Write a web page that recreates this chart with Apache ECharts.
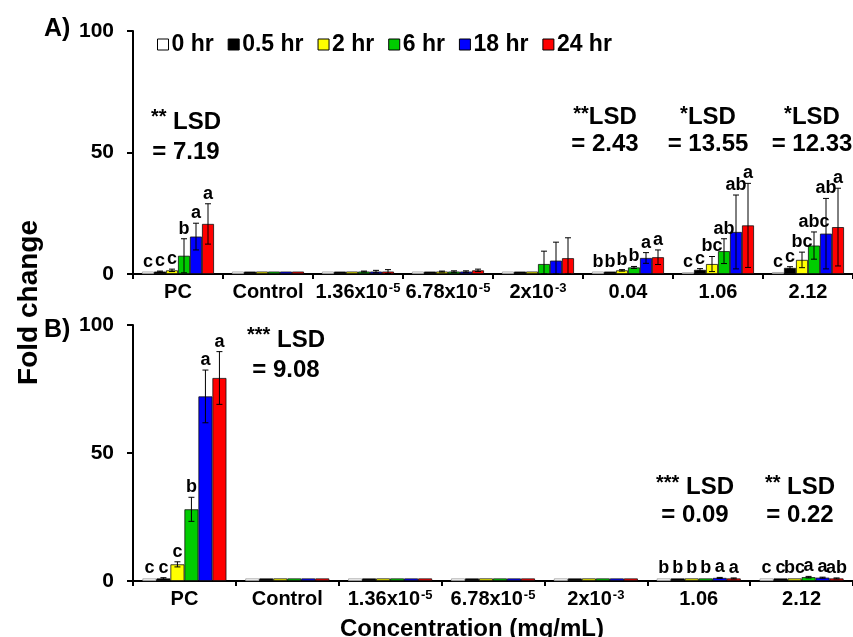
<!DOCTYPE html>
<html>
<head>
<meta charset="utf-8">
<script src="https://cdn.jsdelivr.net/npm/echarts@6/dist/echarts.min.js"></script>
<style>
html,body{margin:0;padding:0;background:#fff;}
#chart{width:853px;height:637px;}
</style>
</head>
<body>
<div id="chart"></div>
<script>
// ---------- DATA ----------
const seriesNames = ['0 hr', '0.5 hr', '2 hr', '6 hr', '18 hr', '24 hr'];
const seriesColors = ['#FFFFFF', '#000000', '#FFFF00', '#00CC00', '#0000FF', '#FF0000'];

const catsA = ['PC', 'Control', '1.36x10-5', '6.78x10-5', '2x10-3', '0.04', '1.06', '2.12'];
const catsB = ['PC', 'Control', '1.36x10-5', '6.78x10-5', '2x10-3', '1.06', '2.12'];

// Panel A means (fold change)
const a0hr  = [1.0, 1.0, 1.0, 1.0, 1.0, 1.0, 0.7, 0.8];
const a05hr = [1.0, 1.0, 1.0, 1.0, 1.0, 1.0, 1.7, 2.5];
const a2hr  = [1.5, 1.0, 1.0, 1.0, 1.0, 1.5, 4.1, 5.8];
const a6hr  = [7.5, 1.0, 1.0, 1.0, 4.1, 2.7, 9.4, 11.7];
const a18hr = [15.4, 1.0, 1.0, 1.0, 5.5, 6.6, 17.3, 16.6];
const a24hr = [20.6, 1.0, 1.0, 1.5, 6.5, 6.9, 20.0, 19.3];
// Panel A error (SD)
const aErr0hr  = [0, 0, 0, 0, 0, 0, 0, 0];
const aErr05hr = [0.2, 0, 0, 0, 0, 0, 0.5, 0.5];
const aErr2hr  = [0.5, 0, 0, 0.2, 0, 0.3, 3.1, 3.2];
const aErr6hr  = [7.0, 0, 0.2, 0.3, 5.3, 0.4, 5.1, 5.6];
const aErr18hr = [5.5, 0, 0.5, 0.3, 7.6, 2.2, 15.2, 14.5];
const aErr24hr = [8.3, 0, 0.8, 0.5, 8.4, 3.0, 17.3, 16.0];
// Panel A letters
const aLet0hr  = ['c', '', '', '', '', 'b', 'c', 'c'];
const aLet05hr = ['c', '', '', '', '', 'b', 'c', 'c'];
const aLet2hr  = ['c', '', '', '', '', 'b', 'bc', 'bc'];
const aLet6hr  = ['b', '', '', '', '', 'b', 'ab', 'abc'];
const aLet18hr = ['a', '', '', '', '', 'a', 'ab', 'ab'];
const aLet24hr = ['a', '', '', '', '', 'a', 'a', 'a'];

// Panel B means
const b0hr  = [1.0, 1.0, 1.0, 1.0, 1.0, 1.0, 1.0];
const b05hr = [1.0, 1.0, 1.0, 1.0, 1.0, 1.0, 1.0];
const b2hr  = [6.5, 1.0, 1.0, 1.0, 1.0, 1.0, 1.0];
const b6hr  = [28.0, 1.0, 1.0, 1.0, 1.0, 1.0, 1.5];
const b18hr = [72.1, 1.0, 1.0, 1.0, 1.0, 1.2, 1.3];
const b24hr = [79.3, 1.0, 1.0, 1.0, 1.0, 1.0, 1.0];
// Panel B error
const bErr0hr  = [0, 0, 0, 0, 0, 0, 0];
const bErr05hr = [0.3, 0, 0, 0, 0, 0, 0];
const bErr2hr  = [1.0, 0, 0, 0, 0, 0, 0];
const bErr6hr  = [4.7, 0, 0, 0, 0, 0, 0.3];
const bErr18hr = [10.3, 0, 0, 0, 0, 0.2, 0.2];
const bErr24hr = [10.3, 0, 0, 0, 0, 0.2, 0.2];
// Panel B letters
const bLet0hr  = ['c', '', '', '', '', 'b', 'c'];
const bLet05hr = ['c', '', '', '', '', 'b', 'c'];
const bLet2hr  = ['c', '', '', '', '', 'b', 'bc'];
const bLet6hr  = ['b', '', '', '', '', 'b', 'a'];
const bLet18hr = ['a', '', '', '', '', 'a', 'a'];
const bLet24hr = ['a', '', '', '', '', 'a', 'ab'];

// Y ticks
const yMin = 0, yMax = 100, yStep = 50;

// LSD annotations
const lsdA = [
  {stars: '**', sp: ' ', val: '7.19'},
  {stars: '**', sp: '', val: '2.43'},
  {stars: '*', sp: '', val: '13.55'},
  {stars: '*', sp: '', val: '12.33'}
];
const lsdB = [
  {stars: '***', sp: ' ', val: '9.08'},
  {stars: '***', sp: ' ', val: '0.09'},
  {stars: '**', sp: ' ', val: '0.22'}
];

// ---------- BUILD ----------
const FONT = '"Liberation Sans", Arial, sans-serif';
const valsA = [a0hr, a05hr, a2hr, a6hr, a18hr, a24hr];
const errsA = [aErr0hr, aErr05hr, aErr2hr, aErr6hr, aErr18hr, aErr24hr];
const letsA = [aLet0hr, aLet05hr, aLet2hr, aLet6hr, aLet18hr, aLet24hr];
const valsB = [b0hr, b05hr, b2hr, b6hr, b18hr, b24hr];
const errsB = [bErr0hr, bErr05hr, bErr2hr, bErr6hr, bErr18hr, bErr24hr];
const letsB = [bLet0hr, bLet05hr, bLet2hr, bLet6hr, bLet18hr, bLet24hr];

function catFormatter(v) {
  const m = v.match(/^(.*x10)(-\d)$/);
  if (m) return m[1] + '{sup|' + m[2] + '}';
  return v;
}

const richCat = {
  sup: {fontSize: 13, fontWeight: 'bold', fontFamily: FONT, color: '#000', verticalAlign: 'top', padding: [0, 0, 0, 1]}
};

function xAxisCfg(cats, idx) {
  return {
    type: 'category', gridIndex: idx, data: cats,
    axisLine: {lineStyle: {color: '#000', width: 2}},
    axisTick: {show: true, length: 5, lineStyle: {color: '#000', width: 2}},
    axisLabel: {interval: 0, color: '#000', fontSize: 20, fontWeight: 'bold', fontFamily: FONT, margin: 8,
      formatter: catFormatter, rich: richCat}
  };
}
function yAxisCfg(idx) {
  return {
    type: 'value', gridIndex: idx, min: yMin, max: yMax, interval: yStep,
    axisLine: {show: true, lineStyle: {color: '#000', width: 2}},
    axisTick: {show: true, length: 6, lineStyle: {color: '#000', width: 2}},
    splitLine: {show: false},
    axisLabel: {color: '#000', fontSize: 21, fontWeight: 'bold', fontFamily: FONT, margin: 19}
  };
}

const series = [];
function addPanel(vals, errs, lets, cats, idx, bw) {
  vals.forEach((arr, s) => {
    series.push({
      name: seriesNames[s], type: 'bar', xAxisIndex: idx, yAxisIndex: idx,
      data: arr, barWidth: bw, barGap: '0%',
      itemStyle: {color: seriesColors[s], borderColor: s === 0 ? '#9a9a9a' : '#111', borderWidth: 0.8},
      emphasis: {disabled: true}, animation: false
    });
  });
  const data = [];
  cats.forEach((c, ci) => {
    for (let s = 0; s < 6; s++) data.push([ci, s, vals[s][ci], errs[s][ci]]);
  });
  series.push({
    type: 'custom', xAxisIndex: idx, yAxisIndex: idx, z: 5, animation: false,
    encode: {x: 0, y: 2},
    data: data,
    renderItem: function (params, api) {
      const ci = api.value(0), s = api.value(1), v = api.value(2), e = api.value(3);
      const center = api.coord([ci, 0]);
      const x = center[0] + (s - 2.5) * bw;
      const topV = v + e;
      const yTop = api.coord([ci, topV])[1];
      const yBot = api.coord([ci, Math.max(v - e, 0)])[1];
      const children = [];
      const st = {stroke: '#000', lineWidth: 1};
      if (e > 0) {
        children.push({type: 'line', shape: {x1: x, y1: yTop, x2: x, y2: yBot}, style: st});
        children.push({type: 'line', shape: {x1: x - 3, y1: yTop, x2: x + 3, y2: yTop}, style: st});
        children.push({type: 'line', shape: {x1: x - 3, y1: yBot, x2: x + 3, y2: yBot}, style: st});
      }
      const letter = lets[s][ci];
      if (letter) {
        children.push({type: 'text', x: x, y: yTop - 1,
          style: {text: letter, fill: '#000', font: 'bold 18px ' + FONT, align: 'center', verticalAlign: 'bottom'}});
      }
      return {type: 'group', children: children};
    }
  });
}
addPanel(valsA, errsA, letsA, catsA, 0, 12);
addPanel(valsB, errsB, letsB, catsB, 1, 14);

function lsdText(item, cx, ty, lh) {
  return {
    type: 'text', x: cx, y: ty,
    style: {
      text: '{st|' + item.stars + '}{t|' + item.sp + 'LSD}\n{t|= ' + item.val + '}',
      rich: {
        st: {fontSize: 20, fontWeight: 'bold', fontFamily: FONT, fill: '#000', verticalAlign: 'top', lineHeight: lh},
        t: {fontSize: 24, fontWeight: 'bold', fontFamily: FONT, fill: '#000', lineHeight: lh}
      },
      align: 'center', verticalAlign: 'top'
    }
  };
}
const lsdPosA = [[186, 107, 30], [605, 104, 27], [708, 104, 27], [812, 104, 27]];
const lsdPosB = [[286, 325, 30], [695, 473, 28], [800, 473, 28]];

const graphics = [];
lsdA.forEach((it, i) => graphics.push(lsdText(it, lsdPosA[i][0], lsdPosA[i][1], lsdPosA[i][2])));
lsdB.forEach((it, i) => graphics.push(lsdText(it, lsdPosB[i][0], lsdPosB[i][1], lsdPosB[i][2])));
graphics.push({type: 'text', left: 44, top: 17, style: {text: 'A)', font: 'bold 25px ' + FONT, fill: '#000'}});
graphics.push({type: 'text', left: 44, top: 318, style: {text: 'B)', font: 'bold 25px ' + FONT, fill: '#000'}});
graphics.push({type: 'text', left: 15, top: 220, rotation: Math.PI / 2,
  style: {text: 'Fold change', font: 'bold 28px ' + FONT, fill: '#000'}});
graphics.push({type: 'text', left: 340, top: 617, style: {text: 'Concentration (mg/mL)', font: 'bold 24px ' + FONT, fill: '#000'}});

const option = {
  backgroundColor: '#fff',
  animation: false,
  legend: {
    data: seriesNames.map(n => ({name: n, itemStyle: {borderColor: '#000', borderWidth: 1}})),
    left: 152, top: 28, itemWidth: 11, itemHeight: 11, itemGap: 14, icon: 'rect',
    textStyle: {fontSize: 23, fontWeight: 'bold', fontFamily: FONT, color: '#000', padding: [0, 0, 0, -2]},
    selectedMode: false
  },
  grid: [
    {left: 133, top: 31, width: 736, height: 243},
    {left: 133, top: 325, width: 731, height: 256}
  ],
  xAxis: [xAxisCfg(catsA, 0), xAxisCfg(catsB, 1)],
  yAxis: [yAxisCfg(0), yAxisCfg(1)],
  series: series,
  graphic: graphics
};

const chart = echarts.init(document.getElementById('chart'), null, {renderer: 'canvas'});
chart.setOption(option);
</script>
</body>
</html>
